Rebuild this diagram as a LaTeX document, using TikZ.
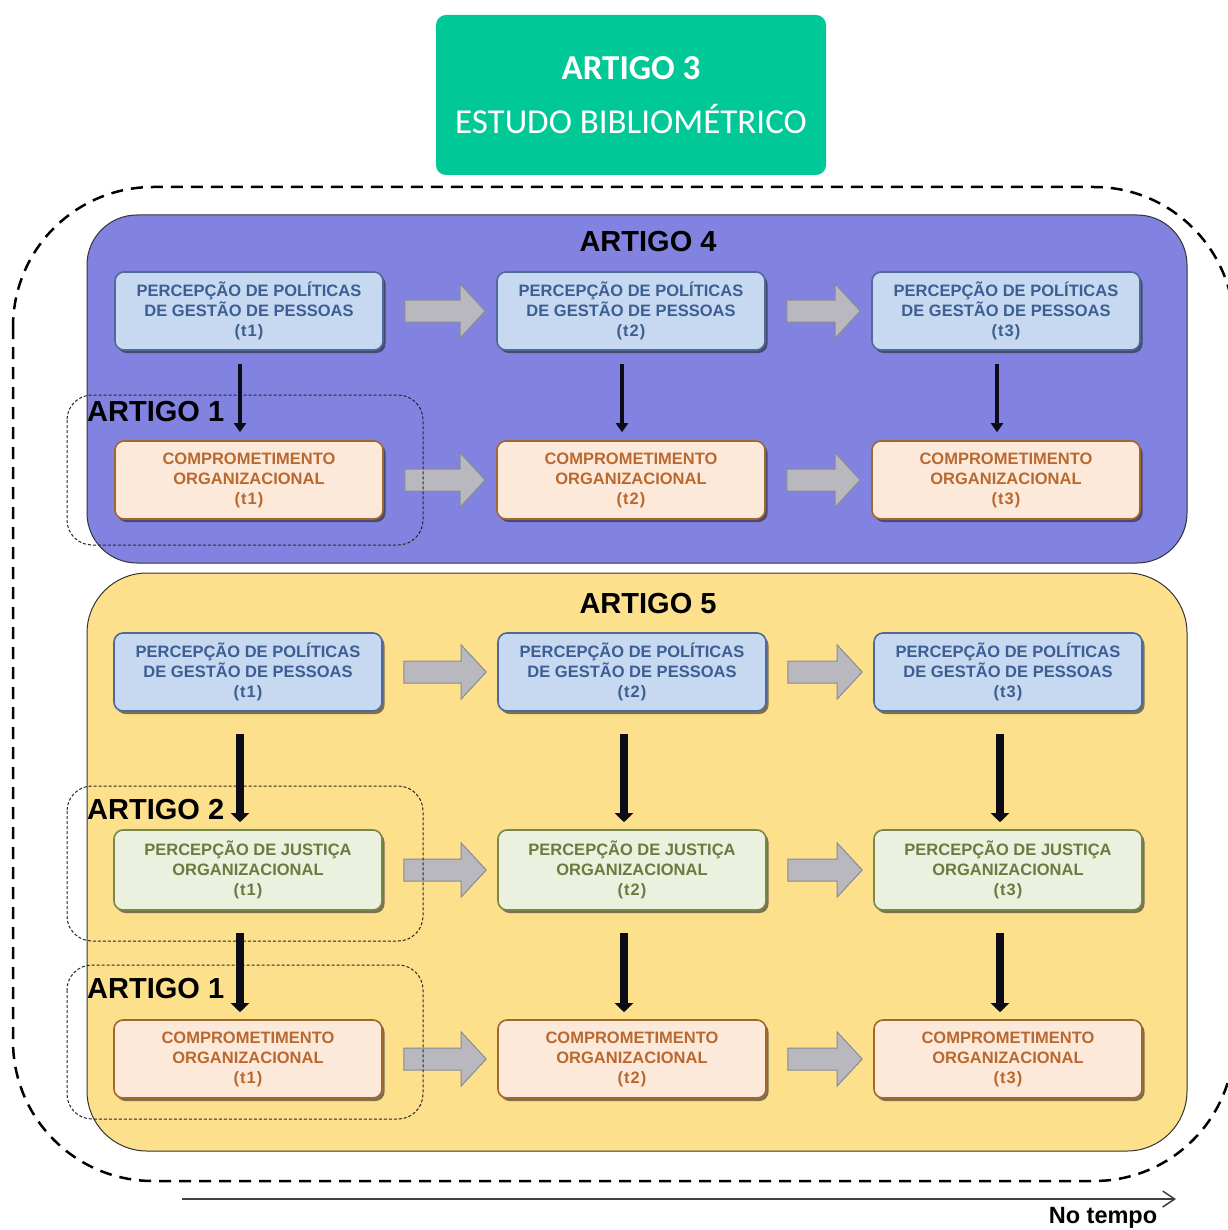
\documentclass[tikz,border=0pt]{standalone}
\usepackage{fontspec}
\setmainfont{Liberation Sans}
\newfontfamily\titlefont{Carlito}
\usetikzlibrary{calc,arrows.meta,shadows}

\definecolor{titlegreen}{HTML}{00C896}
\definecolor{bluepanel}{HTML}{8282E1}
\definecolor{yellowpanel}{HTML}{FDE08C}
\definecolor{pgpfill}{HTML}{C6D9F1}
\definecolor{pgpline}{HTML}{4F6A98}
\definecolor{pgptext}{HTML}{3D5E92}
\definecolor{comfill}{HTML}{FDE9D9}
\definecolor{comline}{HTML}{A0682E}
\definecolor{comtext}{HTML}{B9692F}
\definecolor{jusfill}{HTML}{EBF1DE}
\definecolor{jusline}{HTML}{77884A}
\definecolor{justext}{HTML}{6B7A3E}
\definecolor{flowfill}{HTML}{B8B8BE}
\definecolor{flowline}{HTML}{8A8A94}
\definecolor{darkarrow}{HTML}{0C0C18}

\newcommand{\tstep}[1]{{\addfontfeatures{LetterSpace=6}\fontsize{16.5}{20}\selectfont(#1)}}

% grey block arrow from one box to the next
\newcommand{\flowarrow}[2]{%
  \draw[flowarrowstyle]
    ($(#1.east)+(21,-11)$) -- ($(#2.west)+(-36,-11)$) -- ($(#2.west)+(-36,-27)$)
    -- ($(#2.west)+(-11,0)$) -- ($(#2.west)+(-36,27)$) -- ($(#2.west)+(-36,11)$)
    -- ($(#1.east)+(21,11)$) -- cycle;}

\begin{document}
\begin{tikzpicture}[x=1pt,y=-1pt,
  titlebox/.style={fill=titlegreen, rounded corners=10pt, minimum width=390pt,
    minimum height=160pt, align=center, text=white,
    font=\titlefont\fontsize{35}{54}\selectfont},
  box/.style={rounded corners=9pt, minimum width=268pt, minimum height=78pt,
    align=center, line width=1.6pt, font=\bfseries\fontsize{16.5}{20}\selectfont,
    drop shadow={shadow xshift=2.5pt, shadow yshift=-3pt, opacity=.6, fill=black!85}},
  pgpbox/.style={box, fill=pgpfill, draw=pgpline, text=pgptext},
  combox/.style={box, fill=comfill, draw=comline, text=comtext},
  jusbox/.style={box, fill=jusfill, draw=jusline, text=justext, minimum height=80pt},
  panel/.style={draw=black!80, line width=1pt},
  outerdash/.style={draw=black, line width=2.5pt, dash pattern=on 12pt off 8pt,
    rounded corners=140pt},
  dotbox/.style={draw=black!85, line width=1pt, dash pattern=on 3pt off 2pt,
    rounded corners=25pt},
  artlabel/.style={font=\bfseries\fontsize{29}{30}\selectfont, text=black, inner sep=0pt},
  flowarrowstyle/.style={fill=flowfill, draw=flowline, line width=1pt},
  thinflow/.style={draw=darkarrow, line width=4pt, -{Triangle[width=12pt,length=9pt]}},
  thickflow/.style={draw=darkarrow, line width=8pt, -{Triangle[width=18pt,length=9pt]}},
  timeline/.style={draw=black!75, line width=1.5pt, -{Straight Barb[length=12pt,width=16pt]}}
]
\useasboundingbox (0,0) rectangle (1227,1230);
\fill[white] (0,0) rectangle (1227,1230);

% outer dashed frame
\draw[outerdash] (13,187) rectangle (1234,1181);

% title
\node[titlebox] (art3) at (631,95) {{\bfseries ARTIGO 3}\\ESTUDO BIBLIOMÉTRICO};

% panels
\draw[panel, fill=bluepanel, rounded corners=50pt] (87,215) rectangle (1187,563);
\draw[panel, fill=yellowpanel, rounded corners=60pt] (87,573) rectangle (1187,1151);
\node[artlabel] (art4) at (648,242) {ARTIGO 4};
\node[artlabel] (art5) at (648,604) {ARTIGO 5};

% upper panel boxes
\node[pgpbox] (p1) at (249,311) {PERCEPÇÃO DE POLÍTICAS\\DE GESTÃO DE PESSOAS\\\tstep{t1}};
\node[pgpbox] (p2) at (631,311) {PERCEPÇÃO DE POLÍTICAS\\DE GESTÃO DE PESSOAS\\\tstep{t2}};
\node[pgpbox] (p3) at (1006,311) {PERCEPÇÃO DE POLÍTICAS\\DE GESTÃO DE PESSOAS\\\tstep{t3}};
\node[combox] (c1) at (249,480) {COMPROMETIMENTO\\ORGANIZACIONAL\\\tstep{t1}};
\node[combox] (c2) at (631,480) {COMPROMETIMENTO\\ORGANIZACIONAL\\\tstep{t2}};
\node[combox] (c3) at (1006,480) {COMPROMETIMENTO\\ORGANIZACIONAL\\\tstep{t3}};

% lower panel boxes
\node[pgpbox] (q1) at (248,672) {PERCEPÇÃO DE POLÍTICAS\\DE GESTÃO DE PESSOAS\\\tstep{t1}};
\node[pgpbox] (q2) at (632,672) {PERCEPÇÃO DE POLÍTICAS\\DE GESTÃO DE PESSOAS\\\tstep{t2}};
\node[pgpbox] (q3) at (1008,672) {PERCEPÇÃO DE POLÍTICAS\\DE GESTÃO DE PESSOAS\\\tstep{t3}};
\node[jusbox] (j1) at (248,870) {PERCEPÇÃO DE JUSTIÇA\\ORGANIZACIONAL\\\tstep{t1}};
\node[jusbox] (j2) at (632,870) {PERCEPÇÃO DE JUSTIÇA\\ORGANIZACIONAL\\\tstep{t2}};
\node[jusbox] (j3) at (1008,870) {PERCEPÇÃO DE JUSTIÇA\\ORGANIZACIONAL\\\tstep{t3}};
\node[combox] (k1) at (248,1059) {COMPROMETIMENTO\\ORGANIZACIONAL\\\tstep{t1}};
\node[combox] (k2) at (632,1059) {COMPROMETIMENTO\\ORGANIZACIONAL\\\tstep{t2}};
\node[combox] (k3) at (1008,1059) {COMPROMETIMENTO\\ORGANIZACIONAL\\\tstep{t3}};

% grey flows over time
\flowarrow{p1}{p2}\flowarrow{p2}{p3}
\flowarrow{c1}{c2}\flowarrow{c2}{c3}
\flowarrow{q1}{q2}\flowarrow{q2}{q3}
\flowarrow{j1}{j2}\flowarrow{j2}{j3}
\flowarrow{k1}{k2}\flowarrow{k2}{k3}

% article groupings
\draw[dotbox] (67,395) rectangle (423,545);
\draw[dotbox] (67,786) rectangle (423,941);
\draw[dotbox] (67,965) rectangle (423,1119);
\node[artlabel, anchor=west] (art1a) at (87,412) {ARTIGO 1};
\node[artlabel, anchor=west] (art2) at (87,810) {ARTIGO 2};
\node[artlabel, anchor=west] (art1b) at (87,989) {ARTIGO 1};

% causal arrows
\foreach \a/\b in {p1/c1,p2/c2,p3/c3}
  \draw[thinflow] ($(\a.south)+(-9,13)$) -- ($(\b.north)+(-9,-8)$);
\foreach \a/\b in {q1/j1,q2/j2,q3/j3,j1/k1,j2/k2,j3/k3}
  \draw[thickflow] ($(\a.south)+(-8,22)$) -- ($(\b.north)+(-8,-7)$);

% time axis
\coordinate (t0) at (182,1199);
\coordinate (t1) at (1176,1199);
\draw[timeline] (t0) -- (t1);
\node[font=\bfseries\fontsize{23.5}{24}\selectfont, inner sep=0pt] (time) at (1103,1218) {No tempo};
\end{tikzpicture}
\end{document}
